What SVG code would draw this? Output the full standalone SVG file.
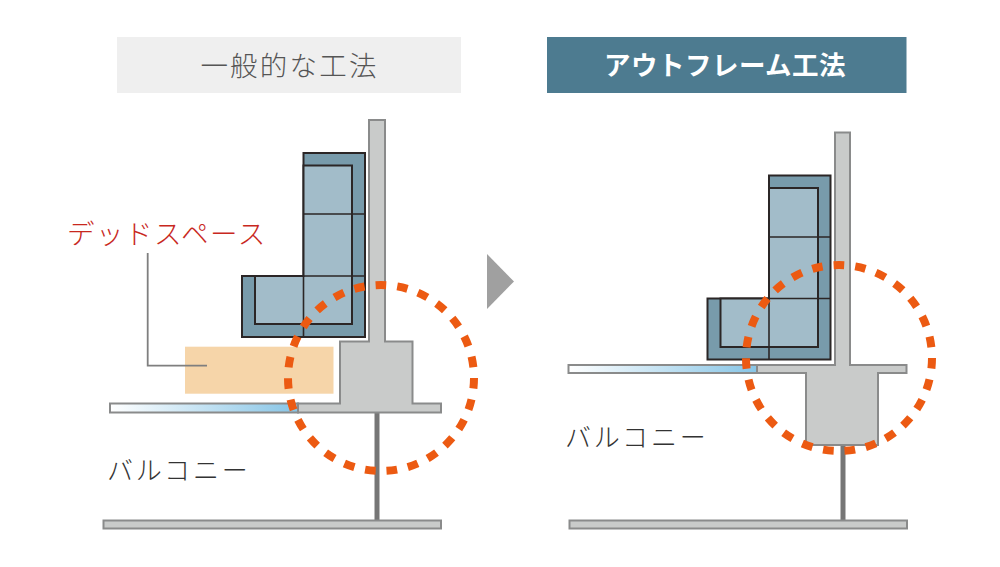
<svg xmlns="http://www.w3.org/2000/svg" width="1000" height="567" viewBox="0 0 1000 567">
<style>
text{font-family:"Noto Sans CJK JP","Noto Sans CJK SC",sans-serif;font-weight:300}
.con{fill:#c9cbca;stroke:#8a8b8b;stroke-width:2}
.pil{fill:none;stroke:#767676;stroke-width:5}
.sofa{fill:#789bab;stroke:#2b2626;stroke-width:2}
.in{fill:#a2bcc9;stroke:#2b2626;stroke-width:2}
.ln{fill:none;stroke:#2b2626;stroke-width:1.600}
.dash{fill:none;stroke:#ec5a12;stroke-width:8;stroke-dasharray:10.6 11}
.glass{fill:url(#g);stroke:#8a8b8b;stroke-width:2}
.lbl{font-size:26px;letter-spacing:2.800px;fill:#333}
</style>
<defs><linearGradient id="g"><stop offset="0" stop-color="#fff"/><stop offset="1" stop-color="#87c5e6"/></linearGradient></defs>
<g id="header-left"><rect x="117" y="37" width="344" height="56" fill="#efefef"/><text x="289.500" y="76" font-size="27.500" letter-spacing="2.200" text-anchor="middle" fill="#555">一般的な工法</text></g>
<g id="header-right"><rect x="547" y="37" width="359.500" height="56" fill="#4d7b90"/><text x="725" y="75" font-size="26.500" letter-spacing="0.500" text-anchor="middle" fill="#fff" style="font-weight:700">アウトフレーム工法</text></g>
<polygon id="arrow" points="487,254 514,281.500 487,309" fill="#a0a0a0"/>
<g id="deadspace"><rect x="185" y="346.700" width="148.500" height="47" fill="#f6d5a9"/></g>
<g id="connectors"><path d="M147.700 253V365.700H207" fill="none" stroke="#7f7f7f" stroke-width="1.800"/></g>
<g id="label-dead"><text x="67" y="244" font-size="27.500" letter-spacing="1.500" fill="#c8281e">デッドスペース</text></g>
<g id="structure-left">
<path class="pil" d="M377 412V521"/>
<rect class="con" x="103.500" y="520.500" width="337.500" height="8"/>
<path class="con" d="M369 120H385V341.500H412.500V403.500H441V412.500H298V403.500H340V341.500H369Z"/>
<rect class="glass" x="110" y="403.500" width="188" height="9"/>
</g>
<g id="sofa-left">
<path class="sofa" d="M303.500 153H365V337H242V276H303.500Z"/>
<path class="in" d="M303.500 165.500H352V324H255V276H303.500Z"/>
<path class="ln" d="M303.500 214H365M303.500 276H365M303.500 276V337"/>
</g>
<g id="label-balcony-left"><text class="lbl" x="107" y="480">バルコニー</text></g>
<g id="structure-right">
<path class="pil" d="M843 445V521"/>
<rect class="con" x="569.500" y="520.500" width="337.500" height="8"/>
<path class="con" d="M835 132.500H850V365H906.500V373H878V445H806V373H757V365H835Z"/>
<rect class="glass" x="568.500" y="365" width="188.500" height="8"/>
</g>
<g id="sofa-right">
<path class="sofa" d="M769 175.500H830.500V359.500H707.500V298.500H769Z"/>
<path class="in" d="M769 188H818V347H720.500V298.500H769Z"/>
<path class="ln" d="M769 237H830.500M769 298.500H830.500M769 298.500V359.500"/>
</g>
<g id="label-balcony-right"><text class="lbl" x="565" y="447">バルコニー</text></g>
<g id="highlight">
<path class="dash" stroke-dashoffset="5.300" d="M381 285A93 93 0 1 1 381 471A93 93 0 1 1 381 285Z"/>
<path class="dash" stroke-dashoffset="5.300" d="M839 265A93 93 0 1 1 839 451A93 93 0 1 1 839 265Z"/>
</g>
</svg>
